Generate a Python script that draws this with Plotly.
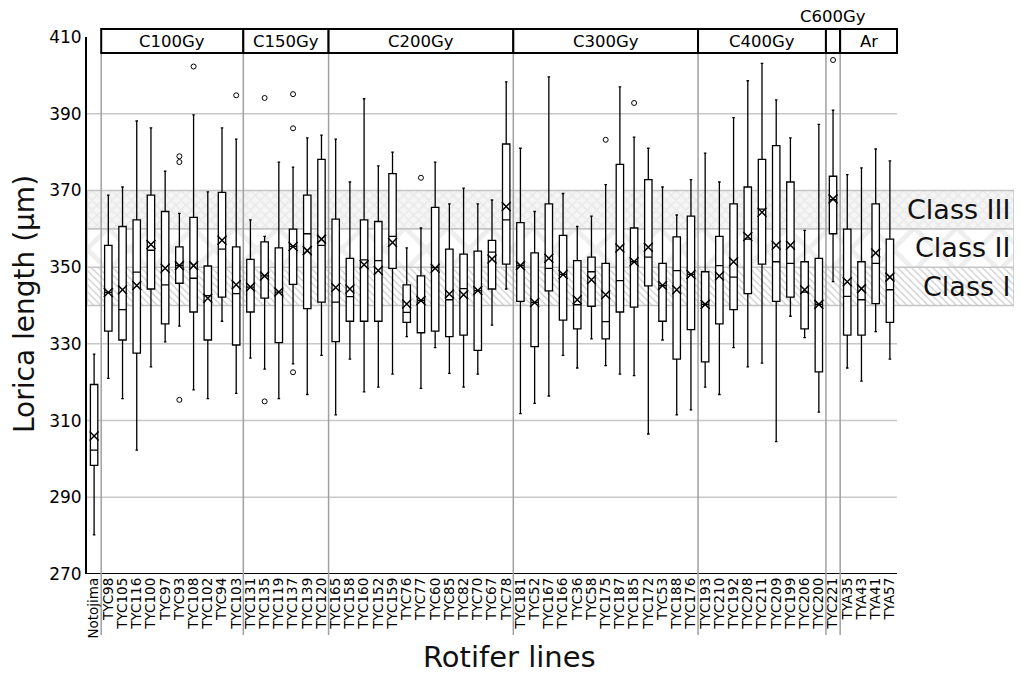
import plotly.graph_objects as go

lines = ["Notojima",
         "TYC98", "TYC105", "TYC116", "TYC100", "TYC97", "TYC93", "TYC108", "TYC102", "TYC94", "TYC103",
         "TYC131", "TYC135", "TYC119", "TYC137", "TYC139", "TYC120",
         "TYC165", "TYC158", "TYC160", "TYC152", "TYC159", "TYC76", "TYC77", "TYC60", "TYC85", "TYC82", "TYC70", "TYC67", "TYC78",
         "TYC181", "TYC52", "TYC167", "TYC166", "TYC36", "TYC58", "TYC175", "TYC187", "TYC185", "TYC172", "TYC53", "TYC188", "TYC176",
         "TYC193", "TYC210", "TYC192", "TYC208", "TYC211", "TYC209", "TYC199", "TYC206", "TYC200",
         "TYC221",
         "TYA35", "TYA43", "TYA41", "TYA57"]

upper = [327.3,
         368.8, 370.9, 388.1, 386.3, 375.0, 364.0, 389.7, 369.6, 386.3, 383.4,
         362.3, 358.0, 377.4, 376.1, 383.7, 384.4,
         383.4, 372.2, 393.9, 376.4, 380.0, 355.0, 360.2, 377.4, 366.5, 370.6, 366.5, 367.5, 398.3,
         381.0, 364.5, 399.6, 369.2, 360.6, 363.3, 371.5, 397.0, 383.9, 381.0, 370.9, 363.6, 372.8,
         379.7, 372.2, 389.0, 398.6, 403.1, 393.6, 383.7, 359.6, 387.2,
         390.9,
         374.1, 375.9, 380.8, 377.7]
q3 = [319.4,
      355.7, 360.6, 362.3, 368.8, 364.5, 355.3, 363.0, 350.3, 369.5, 355.3,
      352.0, 356.6, 355.0, 359.9, 368.8, 378.1,
      362.5, 352.3, 362.3, 361.9, 374.4, 345.4, 347.7, 365.6, 354.7, 353.4, 354.2, 357.0, 382.1,
      361.6, 353.7, 366.5, 358.3, 351.7, 352.6, 351.0, 376.8, 360.2, 372.8, 351.0, 357.9, 363.3,
      348.8, 358.0, 366.5, 370.9, 378.1, 381.7, 372.2, 351.4, 352.3,
      373.7,
      359.9, 351.4, 366.5, 357.3]
median = [302.3,
          343.4, 338.9, 348.7, 354.4, 345.4, 350.4, 347.1, 342.6, 354.7, 343.1,
          344.8, 347.7, 343.5, 355.4, 358.7, 355.7,
          340.9, 342.3, 351.9, 351.7, 358.0, 338.2, 341.3, 349.9, 341.5, 344.4, 343.9, 353.9, 362.3,
          350.4, 340.8, 349.7, 348.1, 340.2, 348.8, 335.8, 346.5, 351.4, 352.6, 345.2, 349.1, 348.1,
          340.3, 350.4, 347.4, 357.3, 365.1, 351.4, 351.0, 343.5, 340.3,
          367.6,
          342.4, 341.5, 351.0, 344.1]
q1 = [298.3,
      333.3, 331.0, 327.6, 344.3, 335.2, 345.8, 338.3, 331.0, 342.2, 329.7,
      338.3, 341.9, 330.3, 345.5, 339.2, 340.9,
      330.6, 335.9, 335.9, 335.9, 349.7, 335.6, 332.9, 333.3, 331.9, 332.3, 328.3, 344.3, 350.8,
      341.1, 329.3, 343.8, 336.2, 333.9, 339.8, 331.3, 338.3, 339.6, 345.1, 335.9, 326.0, 333.7,
      325.3, 335.2, 338.9, 343.1, 350.8, 341.1, 342.2, 333.9, 322.7,
      358.7,
      332.3, 332.3, 340.5, 335.6]
lower = [280.2,
         321.0, 315.7, 302.3, 324.0, 330.5, 334.6, 318.0, 315.7, 335.9, 317.1,
         326.3, 323.4, 315.7, 324.8, 316.8, 327.0,
         311.5, 326.0, 317.5, 318.7, 322.1, 331.9, 318.4, 329.0, 322.3, 318.7, 322.1, 334.9, 344.3,
         311.8, 314.5, 316.4, 327.0, 323.7, 331.3, 324.3, 322.1, 321.7, 306.5, 331.0, 311.5, 312.8,
         318.7, 316.8, 329.0, 324.0, 325.0, 304.5, 337.2, 331.6, 312.2,
         346.2,
         323.7, 320.3, 333.2, 326.0]
mean = [306.0,
        343.4, 344.1, 345.2, 355.9, 349.7, 350.4, 350.4, 341.9, 357.0, 345.4,
        344.8, 347.7, 343.5, 355.4, 354.3, 357.3,
        344.7, 344.3, 350.6, 349.1, 356.4, 340.4, 341.3, 349.7, 343.0, 342.8, 343.9, 352.1, 365.8,
        350.4, 340.8, 352.3, 348.1, 341.5, 346.7, 342.8, 355.0, 351.4, 355.2, 345.2, 344.1, 348.1,
        340.3, 347.7, 351.4, 358.0, 364.3, 355.7, 355.7, 344.1, 340.3,
        367.8,
        346.2, 344.4, 353.7, 347.4]

outlier_line = [6, 6, 6, 7, 10, 12, 12, 14, 14, 14, 23, 36, 38, 52]
outlier_value = [378.9, 377.4, 315.4, 402.3, 394.8, 394.1, 315.0, 395.1, 386.2, 322.6, 373.3, 383.2, 392.8, 404.0]

groups = ["C100Gy", "C150Gy", "C200Gy", "C300Gy", "C400Gy", "C600Gy", "Ar"]
group_sizes = [10, 6, 13, 13, 9, 1, 4]

classes = ["Class I", "Class II", "Class III"]
class_low = [340, 350, 360]
class_high = [350, 360, 370]

yticks = [270, 290, 310, 330, 350, 370, 390, 410]

FONT = "DejaVu Sans, Liberation Sans, Arial, sans-serif"
n = len(lines)
pos = list(range(n))
x_end = n - 0.5 + 117 / 14.21  # bands continue to the right edge of the visible page

fig = go.Figure()

# class bands (bars are drawn beneath box traces)
patterns = [
    dict(shape="\\", size=5, solidity=0.27, fgcolor="#a0a0a0", bgcolor="#ffffff"),
    dict(shape="x", size=30, solidity=0.3, fgcolor="#dedede", bgcolor="#ffffff"),
    dict(shape="x", size=7, solidity=0.4, fgcolor="#dedede", bgcolor="#f5f5f5"),
]
for lo, hi, pat in zip(class_low, class_high, patterns):
    fig.add_trace(go.Bar(
        x=[(x_end - 0.5) / 2], y=[hi - lo], base=[lo], width=[x_end + 0.5],
        marker=dict(color="#ffffff", pattern=pat, line=dict(color="#c4c4c4", width=1.5)),
        hoverinfo="skip", showlegend=False))

fig.add_trace(go.Box(
    x=pos, q1=q1, median=median, q3=q3, lowerfence=lower, upperfence=upper,
    width=0.52, whiskerwidth=0.35, fillcolor="#ffffff",
    line=dict(color="#000000", width=1.3), boxpoints=False, showlegend=False))

fig.add_trace(go.Scatter(
    x=pos, y=mean, mode="markers",
    marker=dict(symbol="x-thin-open", size=9, color="#000000",
                line=dict(color="#000000", width=1.5)),
    showlegend=False))

fig.add_trace(go.Scatter(
    x=outlier_line, y=outlier_value, mode="markers",
    marker=dict(symbol="circle-open", size=5, color="#000000", line=dict(color="#000000", width=1)),
    showlegend=False))

shapes = []
for v in [290, 310, 330, 390]:
    shapes.append(dict(type="line", xref="x", yref="y", x0=-0.5, x1=n - 0.5, y0=v, y1=v,
                       line=dict(color="#c8c8c8", width=1.5), layer="below"))
shapes.append(dict(type="line", xref="x", yref="y", x0=-0.5, x1=n - 0.5, y0=270, y1=270,
                   line=dict(color="#000000", width=2), layer="above"))

# page pixel -> paper coordinate helpers (plot area: x 87..1014, y 37..574 on the page)
PW = 927.0

def py(Y):
    return (574 - Y) / 537.0

def px(X):
    return (X - 87) / PW

bounds = [0.5]
for s in group_sizes:
    bounds.append(bounds[-1] + s)
for b in bounds[:-1]:
    shapes.append(dict(type="line", xref="x", yref="paper", x0=b, x1=b, y0=py(635), y1=py(53),
                       line=dict(color="#a0a0a0", width=1.5), layer="above"))
annotations = []
for g, a, b in zip(groups, bounds[:-1], bounds[1:]):
    shapes.append(dict(type="rect", xref="x", yref="paper", x0=a, x1=b, y0=py(53), y1=py(29),
                       line=dict(color="#000000", width=2), fillcolor="#ffffff", layer="above"))
    ylab = py(16) if g == "C600Gy" else py(41.5)
    annotations.append(dict(x=(a + b) / 2, y=ylab, xref="x", yref="paper", text=g,
                            showarrow=False, font=dict(family=FONT, size=16.5, color="#000"),
                            xanchor="center", yanchor="middle"))

for c, lo, hi in zip(classes, class_low, class_high):
    annotations.append(dict(x=1.0, y=(lo + hi) / 2, xref="paper", yref="y", text=c,
                            showarrow=False, font=dict(family=FONT, size=27, color="#111"),
                            xanchor="right", yanchor="middle", xshift=-1))

annotations.append(dict(x=px(24), y=py(304), xref="paper", yref="paper",
                        text="Lorica length (\u00b5m)", textangle=-90, showarrow=False,
                        font=dict(family=FONT, size=28, color="#111"),
                        xanchor="center", yanchor="middle"))
annotations.append(dict(x=px(509), y=py(657), xref="paper", yref="paper",
                        text="Rotifer lines", showarrow=False,
                        font=dict(family=FONT, size=29, color="#111"),
                        xanchor="center", yanchor="middle"))

# the page body adds an 8px margin; keep the figure inside the visible window
fig.update_layout(
    width=1006, height=667,
    margin=dict(l=79, r=0, t=29, b=101, autoexpand=False),
    paper_bgcolor="#ffffff", plot_bgcolor="#ffffff",
    font=dict(family=FONT, color="#000"),
    showlegend=False, barmode="overlay", boxmode="overlay",
    shapes=shapes, annotations=annotations,
    xaxis=dict(range=[-0.5, x_end], tickmode="array", tickvals=pos, ticktext=lines,
               tickangle=-90, tickfont=dict(family=FONT, size=13.5, color="#000"),
               showgrid=False, zeroline=False, showline=False, ticks="", automargin=False),
    yaxis=dict(range=[270, 410], tickmode="array", tickvals=yticks,
               tickfont=dict(family=FONT, size=17, color="#000"),
               showgrid=False, zeroline=False, showline=True, linecolor="#000", linewidth=2,
               ticks="", automargin=False),
)

fig.write_html("out.html")
